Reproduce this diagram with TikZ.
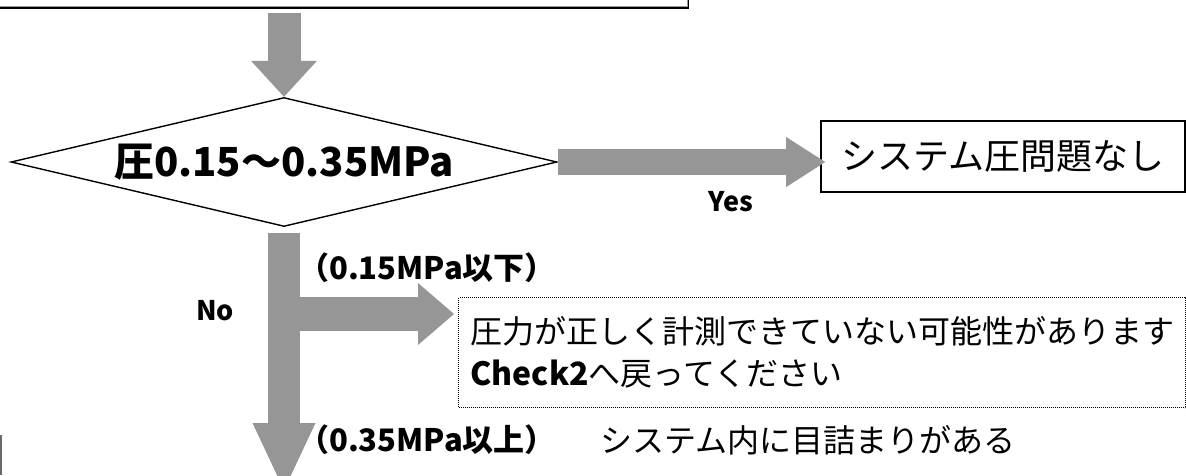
\documentclass[tikz,border=0pt]{standalone}
\usepackage{fontspec}
\setmainfont{Noto Sans CJK JP}
\usetikzlibrary{arrows.meta,shapes.geometric,calc}
\definecolor{arrgray}{RGB}{150,150,150}
\begin{document}
\begin{tikzpicture}[x=1pt,y=-1pt,
  garrow/.style={draw=arrgray, line width=#1},
  plainbox/.style={draw=black, line width=1.6pt, inner sep=0pt},
  dotbox/.style={draw=black, line width=1pt, dash pattern=on 1pt off 1pt, inner ysep=0pt, inner xsep=12pt},
  decision/.style={diamond, draw=black, line width=1.4pt, inner sep=0pt, aspect=4.23,
    minimum width=546pt, minimum height=129pt, font=\fontsize{40}{44}\selectfont\bfseries},
  boldlab/.style={font=\fontsize{27}{30}\selectfont\bfseries, inner sep=0pt},
  rangelab/.style={font=\fontsize{31}{34}\selectfont\bfseries, inner sep=0pt},
  bigtext/.style={font=\fontsize{32}{42}\selectfont, inner sep=0pt}
]
\useasboundingbox (0,0) rectangle (1186,475);

% top box (cut off by the upper edge)
\node[plainbox, minimum width=760pt, minimum height=60pt, anchor=south east] (topbox) at (689,8.5) {};
\draw[arrgray, line width=1pt] ($(topbox.south west)+(0,-1.8)$) -- ($(topbox.south east)+(-1.8,-1.8)$) -- ($(topbox.north east)+(-1.8,0)$);

% decision
\node[decision] (dec) at (284,162) {圧0.15～0.35MPa};

% result box
\node[plainbox, minimum width=364pt, minimum height=71pt,
      font=\fontsize{36}{40}\selectfont] (yes) at (1003,156.5) {システム圧問題なし};

% message box
\node[dotbox, anchor=north west, text width=703pt, minimum height=110pt, align=left,
      font=\fontsize{32}{42}\selectfont] (msg) at (458,297)
  {圧力が正しく計測できていない可能性があります\\{\bfseries Check2}へ戻ってください};

% labels
\node[boldlab] (yeslab) at (731,202) {Yes};
\node[boldlab] (nolab) at (215,311) {No};
\node[rangelab, anchor=west] (lowlab) at (298,268) {（0.15MPa以下）};
\node[rangelab, anchor=west] (highlab) at (298,440) {（0.35MPa以上）};
\node[bigtext, anchor=west] (clog) at (600,440) {システム内に目詰まりがある};

% coordinates for connectors
\coordinate (branch) at (284,314);
\coordinate (bottomend) at (284,490);

% arrows
\draw[garrow=33pt, shorten <=4.5pt, -{Triangle[length=36pt,width=66pt,line width=0pt]}]
  (dec.north |- topbox.south) -- (dec.north);
\draw[garrow=26pt, shorten >=-5pt, -{Triangle[length=39pt,width=50pt,line width=0pt]}]
  (dec.east) -- (dec.east -| yes.west);
\draw[garrow=32pt, shorten <=6pt, -{Triangle[length=67pt,width=63pt,line width=0pt]}]
  (dec.south) -- (bottomend);
\draw[garrow=34pt, shorten >=4pt, -{Triangle[length=36pt,width=62pt,line width=0pt]}]
  (branch) -- (branch -| msg.west);

% small grey mark at the lower left edge
\fill[arrgray!70!black] (0,435) rectangle (1.5,475);
\end{tikzpicture}
\end{document}
